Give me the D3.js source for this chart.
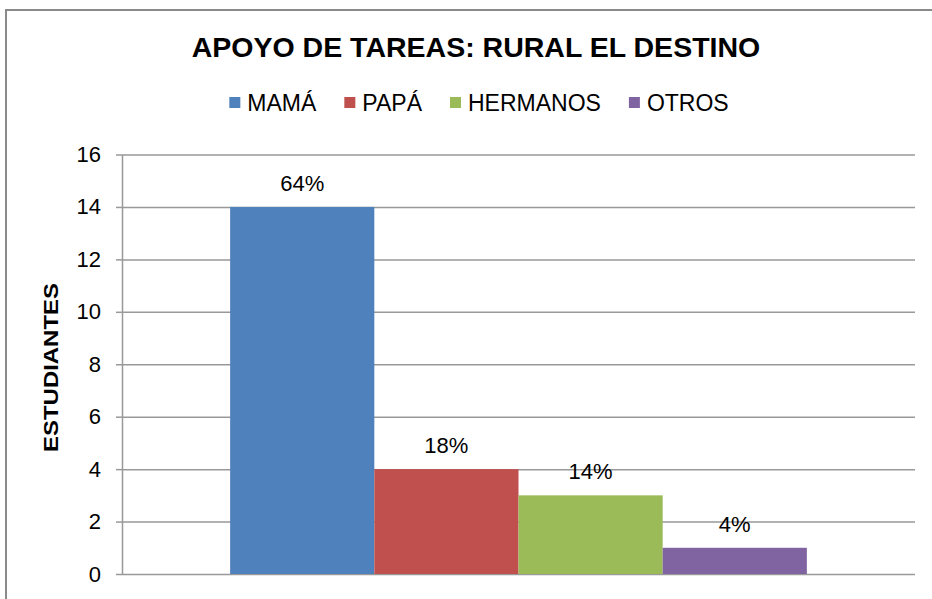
<!DOCTYPE html>
<html>
<head>
<meta charset="utf-8">
<script src="https://cdn.jsdelivr.net/npm/d3@7"></script>
<style>
  body { margin: 0; background: #fff; }
  svg { display: block; font-family: "Liberation Sans", Arial, sans-serif; }
</style>
</head>
<body>
<script>
// Chart values
const category = ["RURAL EL DESTINO"];
const series = ["MAMÁ", "PAPÁ", "HERMANOS", "OTROS"];
const values = [14, 4, 3, 1];
const percentLabels = ["64%", "18%", "14%", "4%"];
const yTicks = [0, 2, 4, 6, 8, 10, 12, 14, 16];
const colors = ["#4F81BD", "#C0504D", "#9BBB59", "#8064A2"];

const w = 932;
const h = 599;
const plot = { left: 122, right: 915, top: 154.5, bottom: 574 };

const svg = d3.select('body')
  .append('svg')
  .attr('width', w)
  .attr('height', h);

// Outer chart border (runs past the right and bottom edges)
svg.append('rect')
  .attr('x', 6)
  .attr('y', 10)
  .attr('width', 1000)
  .attr('height', 700)
  .attr('fill', '#fff')
  .attr('stroke', '#8a8a8a')
  .attr('stroke-width', 2);

// Title
svg.append('text')
  .attr('x', 476)
  .attr('y', 57)
  .attr('text-anchor', 'middle')
  .attr('font-size', '28.5px')
  .attr('font-weight', 'bold')
  .text('APOYO DE TAREAS: RURAL EL DESTINO');

// Scales
const yScale = d3.scaleLinear()
  .domain([0, 16])
  .range([plot.bottom, plot.top]);

const xOuter = d3.scaleBand()
  .domain(category)
  .range([plot.left, plot.right])
  .paddingInner(0)
  .paddingOuter(0.1875);

const xInner = d3.scaleBand()
  .domain(series)
  .range([0, xOuter.bandwidth()]);

// Gridlines
svg.append('g')
  .attr('transform', 'translate(' + plot.left + ',0)')
  .call(d3.axisLeft(yScale).tickValues(yTicks).tickSize(-(plot.right - plot.left)).tickFormat(''))
  .call(g => g.select('.domain').remove())
  .selectAll('line')
  .attr('stroke', '#999')
  .attr('stroke-width', 1.5);

// Y axis
const yAxis = svg.append('g')
  .attr('transform', 'translate(' + plot.left + ',0)')
  .call(d3.axisLeft(yScale).tickValues(yTicks).tickSizeInner(6).tickSizeOuter(0).tickPadding(15));

yAxis.select('.domain').attr('stroke', '#999').attr('stroke-width', 1.5);
yAxis.selectAll('.tick line').attr('stroke', '#999').attr('stroke-width', 1.5);
yAxis.selectAll('.tick text')
  .attr('font-size', '22px')
  .attr('font-family', '"Liberation Sans", Arial, sans-serif')
  .attr('fill', '#000');

// Y axis title
svg.append('text')
  .attr('transform', 'translate(58,367.5) rotate(-90)')
  .attr('text-anchor', 'middle')
  .attr('font-size', '20px')
  .attr('font-weight', 'bold')
  .attr('textLength', 169)
  .attr('lengthAdjust', 'spacingAndGlyphs')
  .text('ESTUDIANTES');

// Bars
const group = svg.append('g')
  .attr('transform', 'translate(' + xOuter(category[0]) + ',0)');

group.selectAll('rect')
  .data(values)
  .enter()
  .append('rect')
  .attr('x', (d, i) => xInner(series[i]))
  .attr('y', (d) => yScale(d))
  .attr('width', xInner.bandwidth())
  .attr('height', (d) => yScale(0) - yScale(d))
  .attr('fill', (d, i) => colors[i]);

// Value labels
group.selectAll('text')
  .data(values)
  .enter()
  .append('text')
  .attr('x', (d, i) => xInner(series[i]) + xInner.bandwidth() / 2)
  .attr('y', (d) => yScale(d) - 16)
  .attr('text-anchor', 'middle')
  .attr('font-size', '22px')
  .text((d, i) => percentLabels[i]);

// Legend
const legend = svg.append('g');
const swatch = 11, swGap = 7, itemGap = 28;
let lx = 0;
series.forEach((name, i) => {
  const item = legend.append('g').attr('transform', 'translate(' + lx + ',0)');
  item.append('rect')
    .attr('x', 0)
    .attr('y', 97)
    .attr('width', swatch)
    .attr('height', swatch)
    .attr('fill', colors[i]);
  const t = item.append('text')
    .attr('x', swatch + swGap)
    .attr('y', 111)
    .attr('font-size', '23px')
    .text(name);
  lx += swatch + swGap + t.node().getComputedTextLength() + itemGap;
});
const legendWidth = lx - itemGap;
legend.attr('transform', 'translate(' + (479 - legendWidth / 2) + ',0)');
</script>
</body>
</html>
